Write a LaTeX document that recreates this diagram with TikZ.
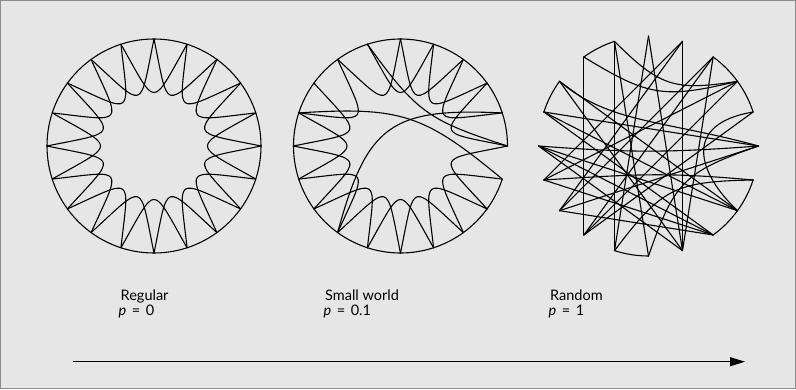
\documentclass[tikz,border=0pt]{standalone}
\usepackage{fontspec}
\setmainfont{Lato}
\usetikzlibrary{arrows.meta}
\definecolor{bgc}{HTML}{E6E6E6}
\definecolor{framec}{HTML}{8C8C8C}
\begin{document}
\begin{tikzpicture}[x=1pt,y=1pt,
  edge/.style={line width=1.1pt, line join=round, line cap=round},
  lab/.style={anchor=base west, inner sep=0pt, font=\fontsize{14.5}{15}\selectfont}]
\path[use as bounding box] (0,0) rectangle (796,389);
\draw[fill=bgc, draw=framec, line width=1pt] (0.5,0.5) rectangle (795.5,388.5);

% ---------- Regular ----------
\begin{scope}[shift={(154,243)}]
  \foreach \i in {0,...,19} \coordinate (a\i) at (18*\i:107);
  \draw[edge] (0,0) circle[radius=107];
  \foreach \i in {0,...,19} {
    \pgfmathtruncatemacro\j{mod(\i+2,20)}
    \draw[edge] (a\i) .. controls ({18*\i+23.4}:37.5) and ({18*\i+12.6}:37.5) .. (a\j);
  }
\end{scope}

% ---------- Small world ----------
\begin{scope}[shift={(400.5,243)}]
  \foreach \i in {0,...,19} \coordinate (b\i) at (18*\i:107);
  \foreach \i in {0,...,18}
    \draw[edge] (b\i) arc[start angle=18*\i, end angle=18*\i+18, radius=107];
  \foreach \i in {0,1,2,3,4,5,7,8,9,10,11,12,13,14,15,16,17,18} {
    \pgfmathtruncatemacro\j{mod(\i+2,20)}
    \draw[edge] (b\i) .. controls ({18*\i+23.4}:37.5) and ({18*\i+12.6}:37.5) .. (b\j);
  }
  \draw[edge] (b9) .. controls (90:39.6) and (54:39.6) .. (b19);
  \draw[edge] (b13) .. controls (147.6:39.6) and (104.4:39.6) .. (b1);
  \draw[edge] (b6) .. controls (64.8:37.5) and (43.2:37.5) .. (b0);
\end{scope}

% ---------- Random ----------
\begin{scope}[shift={(648.5,243)}]
  \foreach \i in {0,...,19} \coordinate (c\i) at (18*\i:110);
  \foreach \i in {1,2,6,8,14,17,18}
    \draw[edge] (c\i) arc[start angle=18*\i, end angle=18*\i+18, radius=110];
  \foreach \u/\v in {5/14,5/16,6/14,7/13,4/16,4/11,3/12,12/4,13/3,2/11,9/18,9/17,10/18,10/17,8/18,6/15,8/16,12/17,13/2,11/17,3/16,9/0,12/0,16/10,13/1}
    \draw[edge] (c\u) -- (c\v);
  \draw[edge] (c6) .. controls (79.2:60.5) and (64.8:60.5) .. (c2);
  \draw[edge] (c7) .. controls (90:49.5) and (72:49.5) .. (c2);
  \draw[edge] (c1) .. controls (33.7:39.6) and (-29:56.7) .. (c18);
  \draw[edge] (c14) .. controls (288:44) and (306:44) .. (c19);
  \draw[edge] (c15) .. controls (306:44) and (324:44) .. (c0);
  \draw[edge] (c10) .. controls (200:20) and (340:20) .. (c0);
  \draw[edge] (c11) .. controls (250:30) and (300:30) .. (c19);
  \draw[edge] (c8) .. controls (150:45) and (60:30) .. (c0);
\end{scope}

% ---------- labels ----------
\node[lab] (t1) at (120.5,88.3) {Regular};
\node[lab] (t1p) at (118.5,73.5) {\textit{p}\hspace{5.5pt}=\hspace{5.5pt}0};
\node[lab] (t2) at (325,88.3) {Small world};
\node[lab] (t2p) at (323.5,73.5) {\textit{p}\hspace{5.5pt}=\hspace{5.5pt}0.1};
\node[lab] (t3) at (550,88.3) {Random};
\node[lab] (t3p) at (548.5,73.5) {\textit{p}\hspace{5.5pt}=\hspace{5.5pt}1};

% ---------- arrow ----------
\coordinate (arS) at (73,27.3);
\coordinate (arE) at (745,27.3);
\draw[line width=1.2pt, -{Triangle[length=15pt,width=9pt]}] (arS) -- (arE);
\end{tikzpicture}
\end{document}
